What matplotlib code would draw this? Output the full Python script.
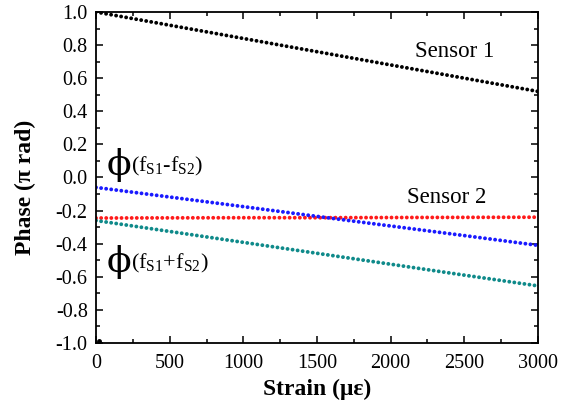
import numpy as np
import matplotlib
matplotlib.use("Agg")
import matplotlib.pyplot as plt
from matplotlib.ticker import FuncFormatter

plt.rcParams['font.family'] = ['Liberation Serif', 'DejaVu Serif']
plt.rcParams['mathtext.fontset'] = 'custom'
plt.rcParams['mathtext.rm'] = 'Liberation Serif'
plt.rcParams['mathtext.it'] = 'Liberation Serif'

# readings, every 500 microstrain
strain = [0, 500, 1000, 1500, 2000, 2500, 3000]
sensor1 = [1.0, 0.92, 0.84, 0.76, 0.68, 0.60, 0.52]
sensor2 = [-0.245, -0.244, -0.243, -0.243, -0.242, -0.241, -0.24]
phi_diff = [-0.06, -0.118, -0.176, -0.235, -0.293, -0.351, -0.41]
phi_sum = [-0.26, -0.326, -0.392, -0.458, -0.524, -0.590, -0.655]
stray_x = [20]
stray_y = [-0.99]

fig = plt.figure(figsize=(5.76, 4.13), dpi=100)
ax = fig.add_axes([0.1667, 0.1695, 0.934 - 0.1667, 0.971 - 0.1695])

dot = dict(linestyle=(0, (0.01, 1.3)), linewidth=2.8, dash_capstyle='round')
ax.plot(strain, sensor1, color='black', **dot)
ax.plot(strain, sensor2, color='#ff1a1a', **dot)
ax.plot(strain, phi_diff, color='#1a1aff', **dot)
ax.plot(strain, phi_sum, color='#0f8a8a', **dot)
ax.plot(stray_x, stray_y, 'o', color='black', markersize=2.5)

ax.set_xlim(0, 3000)
ax.set_ylim(-1.0, 1.0)
ax.set_xticks(np.arange(0, 3001, 500))
ax.set_xticks(np.arange(0, 3001, 250), minor=True)
ax.set_yticks(np.arange(-1.0, 1.01, 0.2))
ax.set_yticks(np.arange(-1.0, 1.01, 0.1), minor=True)
ax.yaxis.set_major_formatter(FuncFormatter(lambda v, p: '%.1f' % (0.0 if abs(v) < 1e-9 else v)))
ax.tick_params(which='both', direction='in', top=True, right=True, labelsize=14.5, width=1.1)
ax.tick_params(which='major', length=5)
ax.tick_params(which='minor', length=3)
ax.tick_params(axis='x', pad=8)
ax.tick_params(axis='y', pad=6)
for s in ax.spines.values():
    s.set_linewidth(1.3)

ax.set_xlabel('Strain (με)', fontsize=17, fontweight='bold', labelpad=4)
ax.set_ylabel('Phase (π rad)', fontsize=17, fontweight='bold')
ax.yaxis.set_label_coords(-0.135, 0.47)

ax.text(2437, 0.76, 'Sensor 1', fontsize=16.5, ha='center', va='center')
ax.text(2383, -0.118, 'Sensor 2', fontsize=16.5, ha='center', va='center')

for y, sign in [(0.075, '-'), (-0.51, '+')]:
    ax.text(75, y, 'ϕ', fontsize=26, ha='left', va='center', family=['DejaVu Serif'])
    ax.annotate('(f$_{S1}$' + sign + 'f$_{S2}$)', xy=(75, y), xytext=(17, -1),
                textcoords='offset points', fontsize=16, ha='left', va='center')

fig.savefig('out.png', dpi=100)
